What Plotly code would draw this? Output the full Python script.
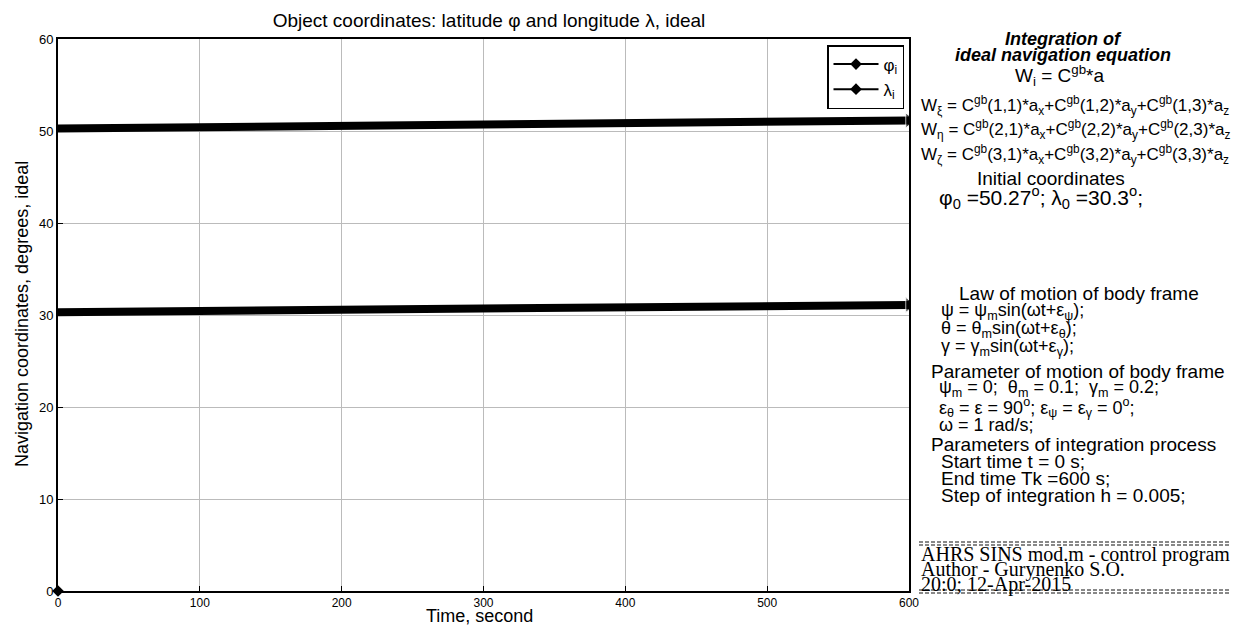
import plotly.graph_objects as go

# Data
time_s = [0, 100, 200, 300, 400, 500, 600]
phi_deg = [50.27, 50.40, 50.55, 50.70, 50.85, 51.00, 51.15]
lam_deg = [30.30, 30.43, 30.57, 30.70, 30.84, 30.97, 31.10]
origin_t = [0]
origin_v = [0]
x_ticks = [0, 100, 200, 300, 400, 500, 600]
y_ticks = [0, 10, 20, 30, 40, 50, 60]

OFF = 7  # page body offset
W, H = 1240 - 2 * OFF - 1, 632 - 2 * OFF - 1
PW, PH = 851, 552
L, T = 57 - OFF, 38 - OFF
R, B = W - L - PW, H - T - PH


def px(x):
    return (x - 57) / PW


def py(y):
    return (590 - y) / PH


fig = go.Figure()
msize = [0] * (len(time_s) - 1) + [13]
for nm, vals in (("φ<sub>i</sub>", phi_deg), ("λ<sub>i</sub>", lam_deg)):
    fig.add_trace(go.Scatter(x=time_s, y=vals, mode="lines+markers", showlegend=False,
                             line=dict(color="black", width=8),
                             marker=dict(symbol="triangle-right", size=msize, color="black")))
    fig.add_trace(go.Scatter(x=[None], y=[None], mode="lines+markers", name=nm,
                             line=dict(color="black", width=2),
                             marker=dict(symbol="diamond", size=9, color="black")))
fig.add_trace(go.Scatter(x=origin_t, y=origin_v, mode="markers", showlegend=False,
                         marker=dict(symbol="diamond", size=9, color="black"), cliponaxis=False))

SANS = "Liberation Sans, Arial, sans-serif"
SERIF = "Liberation Serif, Times New Roman, serif"

ann = []


def text(x, y, s, anchor="left", size=19, family=SANS, angle=0):
    ann.append(dict(x=px(x), y=py(y), xref="paper", yref="paper", text=s, showarrow=False,
                    xanchor=anchor, yanchor="middle", textangle=angle,
                    font=dict(family=family, size=size, color="black")))


# axis titles
text(478, 615, "Time, second", "center", 18)
text(21, 313, "Navigation coordinates, degrees, ideal", "center", 18, angle=-90)

text(1062, 38, "<b><i>Integration of</i></b>", "center", 18)
text(1062, 54, "<b><i>ideal navigation equation</i></b>", "center", 18)
text(1058, 75, "W<sub>i</sub> = C<sup>gb</sup>*a", "center", 19)
text(918, 105, "W<sub>ξ</sub> = C<sup>gb</sup>(1,1)*a<sub>x</sub>+C<sup>gb</sup>(1,2)*a<sub>y</sub>+C<sup>gb</sup>(1,3)*a<sub>z</sub>", size=17)
text(918, 129, "W<sub>η</sub> = C<sup>gb</sup>(2,1)*a<sub>x</sub>+C<sup>gb</sup>(2,2)*a<sub>y</sub>+C<sup>gb</sup>(2,3)*a<sub>z</sub>", size=17)
text(918, 153, "W<sub>ζ</sub> = C<sup>gb</sup>(3,1)*a<sub>x</sub>+C<sup>gb</sup>(3,2)*a<sub>y</sub>+C<sup>gb</sup>(3,3)*a<sub>z</sub>", size=17)
text(1050, 177, "Initial coordinates", "center")
text(936, 197, "φ<sub>0</sub> =50.27<sup>o</sup>; λ<sub>0</sub> =30.3<sup>o</sup>;", size=21)

text(956, 292, "Law of motion of body frame")
text(938, 310, "ψ = ψ<sub>m</sub>sin(ωt+ε<sub>ψ</sub>);", size=18)
text(938, 328, "θ = θ<sub>m</sub>sin(ωt+ε<sub>θ</sub>);", size=18)
text(938, 346, "γ = γ<sub>m</sub>sin(ωt+ε<sub>γ</sub>);", size=18)
text(928, 370, "Parameter of motion of body frame")
text(936, 388, "ψ<sub>m</sub> = 0;  θ<sub>m</sub> = 0.1;  γ<sub>m</sub> = 0.2;", size=18)
text(936, 406, "ε<sub>θ</sub> = ε = 90<sup>o</sup>; ε<sub>ψ</sub> = ε<sub>γ</sub> = 0<sup>o</sup>;", size=18)
text(936, 424, "ω = 1 rad/s;", size=18)
text(928, 443, "Parameters of integration process")
text(938, 460, "Start time t = 0 s;")
text(938, 477, "End time Tk =600 s;")
text(938, 494, "Step of integration h = 0.005;")

text(918, 553, "AHRS SINS mod.m - control program", size=20, family=SERIF)
text(918, 568, "Author - Gurynenko S.O.", size=20, family=SERIF)
text(918, 583, "20:0; 12-Apr-2015", size=20, family=SERIF)

shapes = []
for yy in (541, 544, 589, 592):
    shapes.append(dict(type="line", xref="paper", yref="paper", x0=px(918), x1=px(1228),
                       y0=py(yy), y1=py(yy), line=dict(color="#888888", width=2, dash="4px,2px")))

fig.update_layout(
    width=W, height=H,
    margin=dict(l=L, r=R, t=T, b=B, autoexpand=False),
    paper_bgcolor="white", plot_bgcolor="white",
    font=dict(family=SANS, size=12, color="black"),
    title=dict(text="Object coordinates: latitude φ and longitude λ, ideal",
               xref="paper", x=px(488), xanchor="center",
               yref="container", y=1 - (19 - OFF) / H, yanchor="middle",
               font=dict(size=19)),
    xaxis=dict(range=[0, 600], tickvals=x_ticks, showgrid=True, gridcolor="#bbbbbb", gridwidth=1,
               showline=True, linecolor="black", linewidth=2, mirror=True,
               ticks="inside", ticklen=5, tickcolor="black", zeroline=False,
               automargin=False, tickfont=dict(size=12)),
    yaxis=dict(range=[0, 60], tickvals=y_ticks, showgrid=True, gridcolor="#bbbbbb", gridwidth=1,
               showline=True, linecolor="black", linewidth=2, mirror=True,
               ticks="inside", ticklen=5, tickcolor="black", zeroline=False,
               automargin=False, tickfont=dict(size=13)),
    legend=dict(x=px(826), y=py(44), xanchor="left", yanchor="top",
                bgcolor="white", bordercolor="black", borderwidth=1.5,
                font=dict(size=17), itemwidth=45, tracegroupgap=4),
    annotations=ann, shapes=shapes,
    showlegend=True,
)

fig.write_html("out.html")
